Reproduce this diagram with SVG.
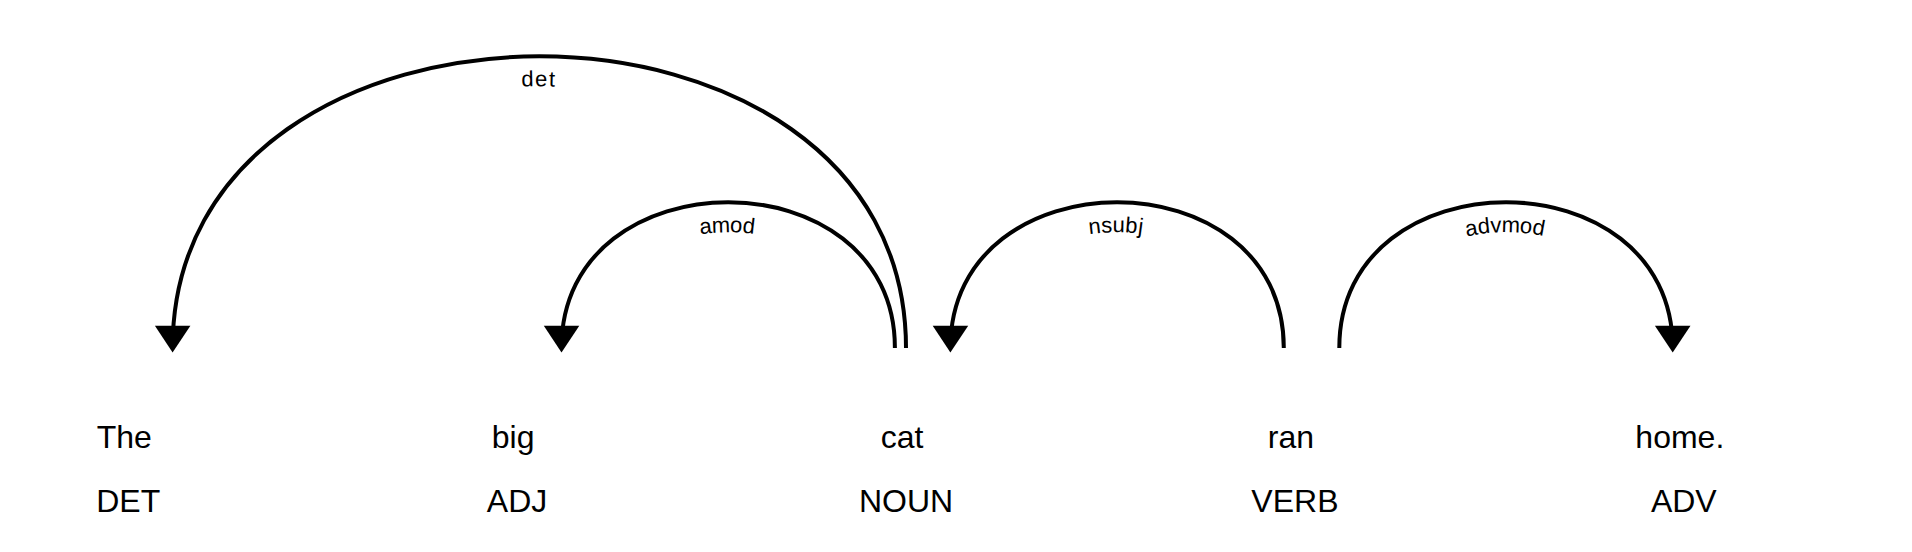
<svg xmlns="http://www.w3.org/2000/svg" xmlns:xlink="http://www.w3.org/1999/xlink" width="1912" height="552" viewBox="0 0 1912 552">
<style>
text { font-family: "Liberation Sans", Arial, sans-serif; fill: #000; }
.token { font-size: 32px; }
.arc { fill: none; stroke: #000; stroke-width: 4px; }
.head { fill: #000; }
.label { font-size: 22px; letter-spacing: 2px; }
</style>
<rect width="1912" height="552" fill="#fff"/>
<g id="word-0"><text class="token" text-anchor="middle" y="448"><tspan x="124.2">The</tspan><tspan x="128.2" dy="2em">DET</tspan></text></g>
<g id="word-1"><text class="token" text-anchor="middle" y="448"><tspan x="513.1">big</tspan><tspan x="517.1" dy="2em">ADJ</tspan></text></g>
<g id="word-2"><text class="token" text-anchor="middle" y="448"><tspan x="902">cat</tspan><tspan x="906" dy="2em">NOUN</tspan></text></g>
<g id="word-3"><text class="token" text-anchor="middle" y="448"><tspan x="1290.9">ran</tspan><tspan x="1294.9" dy="2em">VERB</tspan></text></g>
<g id="word-4"><text class="token" text-anchor="middle" y="448"><tspan x="1679.8">home.</tspan><tspan x="1683.8" dy="2em">ADV</tspan></text></g>
<g id="connectors">
<g id="arc-det">
<path class="arc" id="arrow-0" d="M172.6,348 C172.6,-40.9 906.0,-40.9 906.0,348"/>
<text class="label" dy="30"><textPath href="#arrow-0" startOffset="50%" text-anchor="middle">det</textPath></text>
<path class="head" d="M172.6,352.4 L154.9,325.8 190.4,325.8"/>
</g>
<g id="arc-amod">
<path class="arc" id="arrow-1" d="M561.5,348 C561.5,153.6 894.9,153.6 894.9,348"/>
<text class="label" dy="30"><textPath href="#arrow-1" startOffset="50%" text-anchor="middle">amod</textPath></text>
<path class="head" d="M561.5,352.4 L543.8,325.8 579.3,325.8"/>
</g>
<g id="arc-nsubj">
<path class="arc" id="arrow-2" d="M950.4,348 C950.4,153.6 1283.8,153.6 1283.8,348"/>
<text class="label" dy="30"><textPath href="#arrow-2" startOffset="50%" text-anchor="middle">nsubj</textPath></text>
<path class="head" d="M950.4,352.4 L932.7,325.8 968.2,325.8"/>
</g>
<g id="arc-advmod">
<path class="arc" id="arrow-3" d="M1339.3,348 C1339.3,153.6 1672.7,153.6 1672.7,348"/>
<text class="label" dy="30"><textPath href="#arrow-3" startOffset="50%" text-anchor="middle">advmod</textPath></text>
<path class="head" d="M1672.7,352.4 L1654.9,325.8 1690.5,325.8"/>
</g>
</g>
</svg>
